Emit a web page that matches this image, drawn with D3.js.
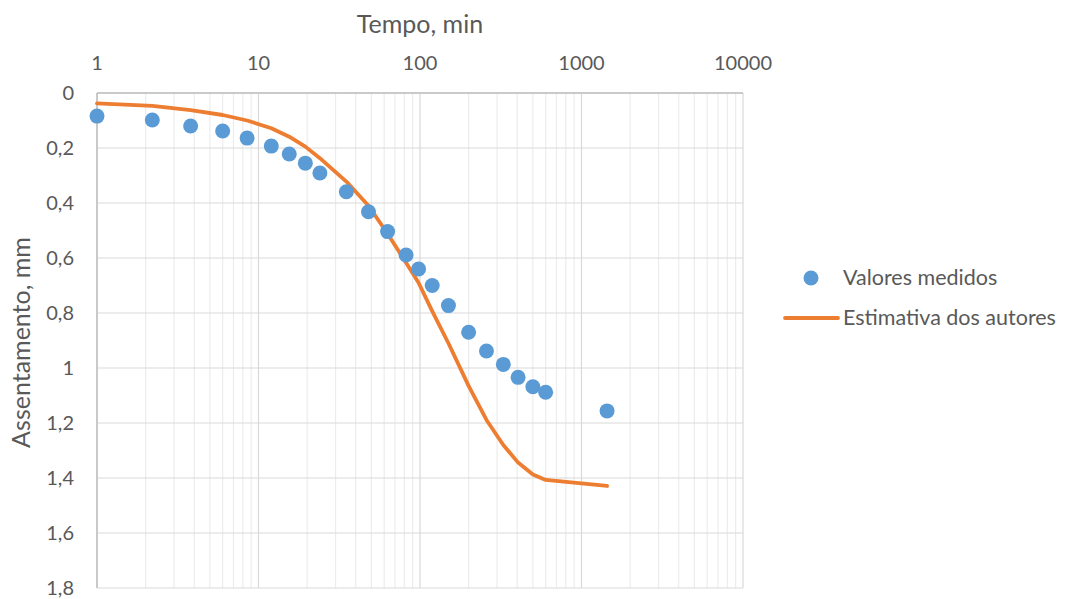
<!DOCTYPE html>
<html>
<head>
<meta charset="utf-8">
<script src="https://cdn.jsdelivr.net/npm/d3@7"></script>
<style>
  html, body { margin: 0; padding: 0; background: #fff; }
  svg { display: block; font-family: Lato, "Open Sans", sans-serif; }
</style>
</head>
<body>
<svg id="chart" width="1066" height="599"></svg>
<script>
// Measured settlement (mm) vs time (min)
const tempoMedido = [1, 2.2, 3.8, 6, 8.5, 12, 15.5, 19.5, 24, 35, 48, 63, 82, 98, 119, 150, 200, 258, 328, 405, 500, 600, 1440];
const assentMedido = [0.084, 0.098, 0.12, 0.138, 0.164, 0.193, 0.222, 0.255, 0.291, 0.359, 0.432, 0.504, 0.589, 0.64, 0.70, 0.773, 0.870, 0.938, 0.987, 1.034, 1.068, 1.088, 1.156];

// Authors' estimate
const tempoEstimado = [1, 2.2, 3.8, 6, 8.5, 12, 15.5, 19.5, 24, 35, 48, 63, 82, 98, 119, 150, 200, 258, 328, 405, 500, 600, 1440];
const assentEstimado = [0.038, 0.047, 0.062, 0.08, 0.10, 0.128, 0.159, 0.195, 0.237, 0.322, 0.41, 0.512, 0.617, 0.69, 0.793, 0.91, 1.065, 1.189, 1.28, 1.344, 1.387, 1.407, 1.429];

const xTicks = [1, 10, 100, 1000, 10000];
const yTicks = [0, 0.2, 0.4, 0.6, 0.8, 1, 1.2, 1.4, 1.6, 1.8];

const seriesNames = ["Valores medidos", "Estimativa dos autores"];
const colors = { medido: "#5b9bd5", estimado: "#ed7d31" };

const svg = d3.select("#chart");
const m = { left: 97, top: 93, right: 743, bottom: 588 };

const x = d3.scaleLog().domain([1, 10000]).range([m.left, m.right]);
const y = d3.scaleLinear().domain([0, 1.8]).range([m.top, m.bottom]);

const fmt = v => d3.format(".1f")(v).replace(/\.0$/, "").replace(".", ",");

// Minor vertical gridlines (2..9 within each decade)
const minor = [];
for (let d = 1; d < 10000; d *= 10) for (let k = 2; k <= 9; k++) minor.push(d * k);
svg.append("g").selectAll("line").data(minor).join("line")
  .attr("x1", d => x(d)).attr("x2", d => x(d))
  .attr("y1", m.top).attr("y2", m.bottom)
  .attr("stroke", "#ececec").attr("stroke-width", 1.2);

// Horizontal gridlines
svg.append("g").selectAll("line").data(yTicks).join("line")
  .attr("x1", m.left).attr("x2", m.right)
  .attr("y1", d => y(d)).attr("y2", d => y(d))
  .attr("stroke", "#d9d9d9").attr("stroke-width", 1.2);

// Major vertical gridlines
svg.append("g").selectAll("line").data(xTicks).join("line")
  .attr("x1", d => x(d)).attr("x2", d => x(d))
  .attr("y1", m.top).attr("y2", m.bottom)
  .attr("stroke", "#d9d9d9").attr("stroke-width", 1.2);

// Axis lines
svg.append("line").attr("x1", m.left).attr("x2", m.left).attr("y1", m.top).attr("y2", m.bottom)
  .attr("stroke", "#bfbfbf").attr("stroke-width", 1.5);
svg.append("line").attr("x1", m.left).attr("x2", m.right).attr("y1", m.top).attr("y2", m.top)
  .attr("stroke", "#bfbfbf").attr("stroke-width", 1.5);

// Tick labels
svg.append("g").selectAll("text").data(xTicks).join("text")
  .attr("x", d => x(d)).attr("y", 70)
  .attr("text-anchor", "middle").attr("fill", "#595959").attr("font-size", 20)
  .text(d => d);
svg.append("g").selectAll("text").data(yTicks).join("text")
  .attr("x", 74).attr("y", d => y(d) + 7)
  .attr("text-anchor", "end").attr("fill", "#595959").attr("font-size", 20)
  .text(fmt);

// Axis titles
svg.append("text").attr("x", (m.left + m.right) / 2).attr("y", 33)
  .attr("text-anchor", "middle").attr("fill", "#595959").attr("font-size", 25)
  .text("Tempo, min");
svg.append("text")
  .attr("transform", `translate(30,${(m.top + m.bottom) / 2 + 2}) rotate(-90)`)
  .attr("text-anchor", "middle").attr("fill", "#595959").attr("font-size", 25)
  .text("Assentamento, mm");

// Estimate line
const est = tempoEstimado.map((t, i) => [t, assentEstimado[i]]);
svg.append("path").datum(est)
  .attr("fill", "none").attr("stroke", colors.estimado).attr("stroke-width", 3.8)
  .attr("stroke-linejoin", "round").attr("stroke-linecap", "round")
  .attr("d", d3.line().x(d => x(d[0])).y(d => y(d[1])));

// Measured points
svg.append("g").selectAll("circle").data(tempoMedido.map((t, i) => [t, assentMedido[i]])).join("circle")
  .attr("cx", d => x(d[0])).attr("cy", d => y(d[1])).attr("r", 7.5)
  .attr("fill", colors.medido);

// Legend
const lg = svg.append("g");
lg.append("circle").attr("cx", 811).attr("cy", 278).attr("r", 7.5).attr("fill", colors.medido);
lg.append("text").attr("x", 843).attr("y", 285).attr("fill", "#595959").attr("font-size", 21.5).text(seriesNames[0]);
lg.append("line").attr("x1", 785).attr("x2", 838).attr("y1", 318).attr("y2", 318)
  .attr("stroke", colors.estimado).attr("stroke-width", 3.8).attr("stroke-linecap", "round");
lg.append("text").attr("x", 843).attr("y", 325).attr("fill", "#595959").attr("font-size", 21.5).text(seriesNames[1]);
</script>
</body>
</html>
